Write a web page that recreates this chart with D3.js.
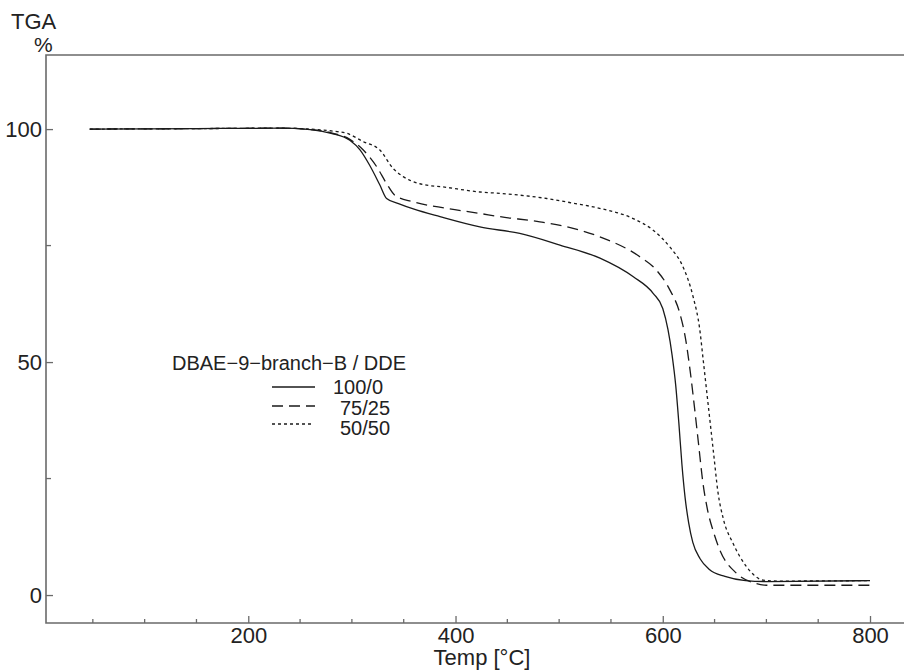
<!DOCTYPE html>
<html>
<head>
<meta charset="utf-8">
<script src="https://cdn.jsdelivr.net/npm/d3@7"></script>
<style>
  body { margin: 0; background: #fff; }
  text { font-family: "Liberation Sans", Arial, sans-serif; fill: #222; }
</style>
</head>
<body>
<div id="chart"></div>
<script>
// TGA curves: temperature (°C) and weight (%)
var temp100 = [47, 150, 230, 260, 280, 298, 308, 317, 327, 333.5, 345, 360, 385, 423.5, 462, 500.8, 539.4, 571.6, 590.9, 600, 605, 609, 612.5, 615.5, 618.5, 621.5, 625, 629, 636, 645, 660, 680, 700, 800];
var tga100  = [100, 100.1, 100.2, 99.9, 99.1, 97.6, 95.5, 92.3, 88, 85.1, 84, 82.8, 81.2, 79.0, 77.6, 75.1, 72.3, 68.3, 64.7, 61.5, 57, 51.5, 45, 37, 28, 21, 15.5, 11.3, 7.8, 5.5, 4, 3.1, 2.9, 3.1];

var temp75 = [47, 150, 230, 260, 280, 298, 311, 324, 333.5, 341.5, 359, 391, 423.5, 442.8, 481.4, 513.5, 539, 577.8, 594, 606.8, 616.4, 622, 626.5, 630.5, 634.5, 638.5, 643, 649, 655, 671, 690, 700, 800];
var tga75  = [100, 100.1, 100.2, 99.9, 99.2, 97.8, 95.5, 91.9, 88.3, 85.8, 84.4, 83, 81.9, 81.2, 80.1, 78.7, 76.9, 72.6, 69.7, 65.5, 60.5, 55, 48, 40.5, 32.5, 24.5, 18.5, 13.5, 9.7, 4.7, 2.5, 2.1, 2.1];

var temp50 = [47, 150, 230, 260, 280, 295, 311, 327, 340, 349.5, 365, 391, 423.5, 443, 488, 513.5, 539, 571.4, 590.7, 606.8, 619.6, 629.3, 635.7, 639, 642.5, 646, 649.5, 653, 658.5, 667.8, 680.8, 696.8, 710, 800];
var tga50  = [100, 100.1, 100.2, 100, 99.6, 99.1, 97.3, 95.5, 91.5, 89.8, 88.3, 87.5, 86.5, 86.2, 85.1, 84.1, 83, 80.8, 78.3, 74.7, 70.4, 64, 57, 50.5, 43.5, 36.5, 29.5, 22.5, 16.3, 11.1, 6.1, 3.2, 3.0, 3.1];

var seriesNames = ["100/0", "75/25", "50/50"];
var legendTitle = "DBAE\u22129\u2212branch\u2212B / DDE";
var xTicks = [200, 400, 600, 800];
var yTicks = [0, 50, 100];

var svgWidth = 904;
var svgHeight = 670;

// plot frame in pixels
var plotLeft = 46, plotTop = 55, plotRight = 904, plotBottom = 623;

var svg = d3.select("#chart")
  .append("svg")
  .attr("width", svgWidth)
  .attr("height", svgHeight);

var x = d3.scaleLinear().domain([4.8, 832.8]).range([plotLeft, plotRight]);
var y = d3.scaleLinear().domain([-6, 115.9]).range([plotBottom, plotTop]);

var axisColor = "#6a6a6a";

// minor ticks, drawn inward
var xMinor = d3.range(50, 801, 50).filter(function(d) { return xTicks.indexOf(d) < 0; });
var yMinor = [25, 75, 125].filter(function(d) { return d < 115.9; });

var xAxis = d3.axisBottom(x).tickValues(xTicks).tickSize(-7).tickPadding(4);
var yAxis = d3.axisLeft(y).tickValues(yTicks).tickSize(-7).tickPadding(4);

var gx = svg.append("g")
  .attr("transform", "translate(0," + plotBottom + ")")
  .call(xAxis);
var gy = svg.append("g")
  .attr("transform", "translate(" + plotLeft + ",0)")
  .call(yAxis);

[gx, gy].forEach(function(g) {
  g.select(".domain").remove();
  g.selectAll(".tick line").attr("stroke", axisColor).attr("stroke-width", 1.3);
  g.selectAll(".tick text")
    .style("font-size", "22px")
    .attr("fill", "#222");
});

svg.append("g").selectAll("line")
  .data(xMinor)
  .enter().append("line")
  .attr("x1", function(d) { return x(d); })
  .attr("x2", function(d) { return x(d); })
  .attr("y1", plotBottom)
  .attr("y2", plotBottom - 4)
  .attr("stroke", axisColor)
  .attr("stroke-width", 1.3);

svg.append("g").selectAll("line")
  .data(yMinor)
  .enter().append("line")
  .attr("x1", plotLeft)
  .attr("x2", plotLeft + 5)
  .attr("y1", function(d) { return y(d); })
  .attr("y2", function(d) { return y(d); })
  .attr("stroke", axisColor)
  .attr("stroke-width", 1.3);

// frame: left, top, bottom
svg.append("path")
  .attr("d", "M" + plotRight + "," + plotTop + "H" + plotLeft + "V" + plotBottom + "H" + plotRight)
  .attr("fill", "none")
  .attr("stroke", axisColor)
  .attr("stroke-width", 1.6);

// curves
var line = d3.line()
  .x(function(d) { return x(d[0]); })
  .y(function(d) { return y(d[1]); })
  .curve(d3.curveMonotoneX);

var dashes = [null, "11,6", "3,3"];
var series = [
  d3.zip(temp100, tga100),
  d3.zip(temp75, tga75),
  d3.zip(temp50, tga50)
];

svg.append("g").selectAll("path")
  .data(series)
  .enter().append("path")
  .attr("d", line)
  .attr("fill", "none")
  .attr("stroke", "#1a1a1a")
  .attr("stroke-width", 1.3)
  .attr("stroke-dasharray", function(d, i) { return dashes[i]; });

// axis titles
svg.append("text")
  .attr("x", 11)
  .attr("y", 29)
  .style("font-size", "22px")
  .text("TGA");
svg.append("text")
  .attr("x", 34)
  .attr("y", 52)
  .style("font-size", "21px")
  .text("%");
svg.append("text")
  .attr("x", 482)
  .attr("y", 665)
  .attr("text-anchor", "middle")
  .style("font-size", "22px")
  .text("Temp [\u00B0C]");

// legend
var legend = svg.append("g");
legend.append("text")
  .attr("x", 172)
  .attr("y", 370)
  .style("font-size", "20px")
  .text(legendTitle);

var legendY = [387, 406, 424];
var legendTextX = [333, 340, 340];
var legendLen = [43, 43, 40];
seriesNames.forEach(function(name, i) {
  legend.append("line")
    .attr("x1", 272)
    .attr("x2", 272 + legendLen[i])
    .attr("y1", legendY[i])
    .attr("y2", legendY[i])
    .attr("stroke", "#1a1a1a")
    .attr("stroke-width", 1.3)
    .attr("stroke-dasharray", dashes[i]);
  legend.append("text")
    .attr("x", legendTextX[i])
    .attr("y", legendY[i] + 7 + i * 2)
    .style("font-size", "20px")
    .text(name);
});
</script>
</body>
</html>
